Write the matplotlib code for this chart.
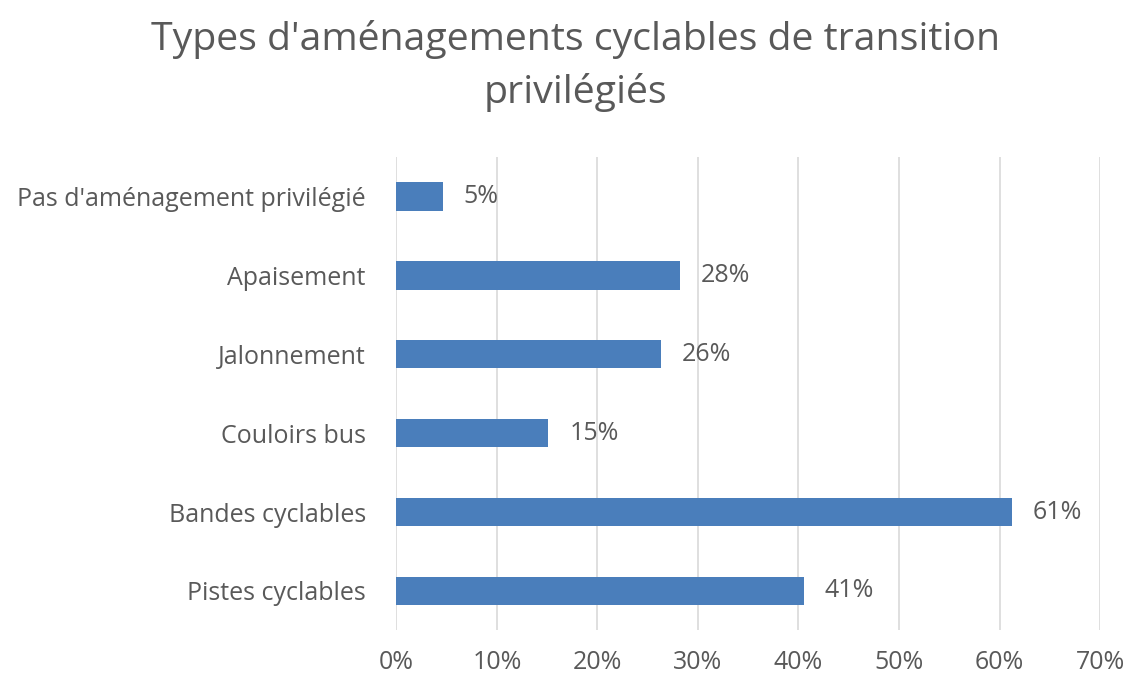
import matplotlib.pyplot as plt
from matplotlib.ticker import FuncFormatter

categories = ["Pas d'aménagement privilégié", "Apaisement", "Jalonnement",
              "Couloirs bus", "Bandes cyclables", "Pistes cyclables"]
values = [4.6, 28.2, 26.3, 15.1, 61.2, 40.5]
labels = ["5%", "28%", "26%", "15%", "61%", "41%"]
xticks = [0, 10, 20, 30, 40, 50, 60, 70]

plt.rcParams['font.family'] = ['Open Sans', 'DejaVu Sans']
txt = '#595959'

fig = plt.figure(figsize=(11.26, 6.8), dpi=100)
ax = fig.add_axes([0.352, 0.073, 0.625, 0.696])

ypos = list(range(len(categories)))[::-1]
ax.barh(ypos, values, height=0.36, color='#4a7ebb', zorder=3)
for y, v, l in zip(ypos, values, labels):
    ax.text(v + 2.1, y, l, va='center', ha='left', fontsize=18, color=txt)

ax.set_xlim(0, 70)
ax.set_ylim(-0.5, len(categories) - 0.5)
ax.set_xticks(xticks)
ax.xaxis.set_major_formatter(FuncFormatter(lambda x, p: f"{int(x)}%"))
ax.set_yticks(ypos)
ax.set_yticklabels(categories)
ax.tick_params(axis='both', length=0, labelsize=18, colors=txt)
ax.tick_params(axis='x', pad=14)
ax.tick_params(axis='y', pad=22)
ax.grid(axis='x', color='#d9d9d9', linewidth=1.2, zorder=0)
for s in ax.spines.values():
    s.set_visible(False)

fig.text(0.511, 0.903, "Types d'aménagements cyclables de transition\nprivilégiés",
         ha='center', va='center', fontsize=28.3, color=txt, linespacing=1.45)

fig.savefig('out.png', dpi=100, facecolor='white')
